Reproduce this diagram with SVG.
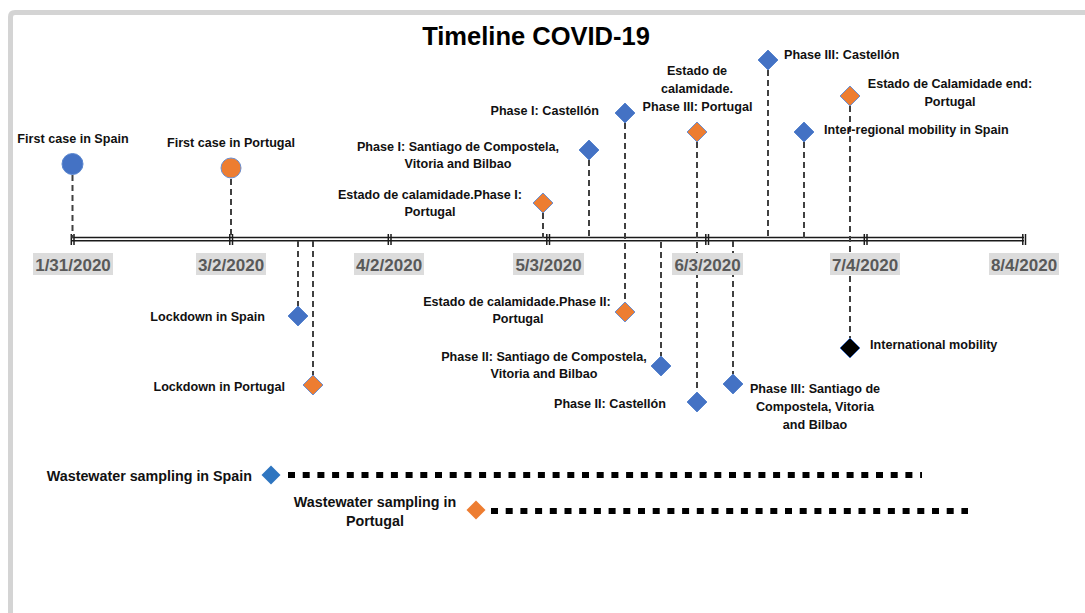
<svg xmlns="http://www.w3.org/2000/svg" xmlns:xlink="http://www.w3.org/1999/xlink" width="1085" height="613" viewBox="0 0 1085 613">
<style>
  .lbl { font-family: "Liberation Sans", Arial, sans-serif; font-weight: bold; font-size: 12.6px; fill: #111; }
  .ww { font-size: 14.3px; }
  .mid { text-anchor: middle; }
  .end { text-anchor: end; }
  .date { font-family: "Liberation Sans", Arial, sans-serif; font-weight: bold; font-size: 17px; fill: #595959; text-anchor: middle; }
  .datebox { fill: #dcdcdc; }
  .dash { stroke: #404040; stroke-width: 2; stroke-dasharray: 6 4; fill: none; }
  .axis { stroke: #1a1a1a; stroke-width: 1.4; }
  .tick { stroke: #1a1a1a; stroke-width: 1.5; }
  .blue { fill: #4472c4; stroke: #5a86cf; stroke-width: 1; }
  .orange { fill: #ed7d31; stroke: #6b8fd0; stroke-width: 1; }
  .black { fill: #000; stroke: #4472c4; stroke-width: 1; }
  .dots { stroke: #000; stroke-width: 6; stroke-dasharray: 7 7.7; fill: none; }
</style>
<defs>
  <path id="dia" d="M0,-10 L10,0 L0,10 L-10,0 Z"/>
  <path id="dia2" d="M0,-9.5 L9.5,0 L0,9.5 L-9.5,0 Z"/>
  <g id="tk"><line x1="-1.2" y1="234" x2="-1.2" y2="245"/><line x1="1.5" y1="234" x2="1.5" y2="245"/></g>
</defs>
<rect width="1085" height="613" fill="#fff"/>
<path d="M10.5,613 L10.5,17 Q10.5,12.5 15,12.5 L1085,12.5" fill="none" stroke="#d4d4d4" stroke-width="5"/>

<text x="536" y="45" font-family="Liberation Sans, Arial, sans-serif" font-weight="bold" font-size="25.5" text-anchor="middle" fill="#000">Timeline COVID-19</text>

<g id="axis">
  <line class="axis" x1="72" y1="237.5" x2="1024" y2="237.5"/>
  <line class="axis" x1="72" y1="240.7" x2="1024" y2="240.7"/>
  <g class="tick">
    <use xlink:href="#tk" x="72.5"/>
    <use xlink:href="#tk" x="231"/>
    <use xlink:href="#tk" x="389.5"/>
    <use xlink:href="#tk" x="548"/>
    <use xlink:href="#tk" x="707"/>
    <use xlink:href="#tk" x="865.5"/>
    <use xlink:href="#tk" x="1024"/>
  </g>
</g>

<g id="connectors">
  <line class="dash" x1="72.5" y1="175" x2="72.5" y2="238"/>
  <line class="dash" x1="231" y1="179" x2="231" y2="238"/>
  <line class="dash" x1="298" y1="241" x2="298" y2="306"/>
  <line class="dash" x1="313" y1="241" x2="313" y2="375"/>
  <line class="dash" x1="543" y1="213" x2="543" y2="238"/>
  <line class="dash" x1="589" y1="160" x2="589" y2="238"/>
  <line class="dash" x1="625" y1="123" x2="625" y2="302"/>
  <line class="dash" x1="661" y1="242" x2="661" y2="356"/>
  <line class="dash" x1="697" y1="142" x2="697" y2="392"/>
  <line class="dash" x1="733" y1="241" x2="733" y2="374"/>
  <line class="dash" x1="768" y1="70" x2="768" y2="238"/>
  <line class="dash" x1="804" y1="142" x2="804" y2="238"/>
  <line class="dash" x1="850" y1="106" x2="850" y2="338"/>
</g>

<g id="dates">
  <rect class="datebox" x="33" y="253" width="80" height="22"/><text class="date" x="73" y="270.5">1/31/2020</text>
  <rect class="datebox" x="196" y="253" width="70" height="22"/><text class="date" x="231" y="270.5">3/2/2020</text>
  <rect class="datebox" x="354" y="253" width="70" height="22"/><text class="date" x="389" y="270.5">4/2/2020</text>
  <rect class="datebox" x="513" y="253" width="71" height="22"/><text class="date" x="548.5" y="270.5">5/3/2020</text>
  <rect class="datebox" x="672" y="253" width="71" height="22"/><text class="date" x="707.5" y="270.5">6/3/2020</text>
  <rect class="datebox" x="830" y="253" width="70" height="22"/><text class="date" x="865" y="270.5">7/4/2020</text>
  <rect class="datebox" x="989" y="253" width="70" height="22"/><text class="date" x="1024" y="270.5">8/4/2020</text>
</g>

<g id="first-case-spain">
  <circle cx="72.5" cy="164" r="10.5" fill="#4472c4" stroke="#5a86cf" stroke-width="1"/>
  <text class="lbl mid" x="73" y="143">First case in Spain</text>
</g>
<g id="first-case-portugal">
  <circle cx="231" cy="168" r="10" fill="#ed7d31" stroke="#6b8fd0" stroke-width="1"/>
  <text class="lbl mid" x="231" y="147">First case in Portugal</text>
</g>
<g id="lockdown-spain">
  <use xlink:href="#dia" class="blue" x="298" y="316"/>
  <text class="lbl end" x="265" y="321">Lockdown in Spain</text>
</g>
<g id="lockdown-portugal">
  <use xlink:href="#dia" class="orange" x="313" y="385"/>
  <text class="lbl end" x="285" y="391">Lockdown in Portugal</text>
</g>
<g id="phase1-portugal">
  <use xlink:href="#dia" class="orange" x="543" y="203"/>
  <text class="lbl mid" x="430" y="199">Estado de calamidade.Phase I:</text>
  <text class="lbl mid" x="430" y="216">Portugal</text>
</g>
<g id="phase1-santiago">
  <use xlink:href="#dia" class="blue" x="589" y="150"/>
  <text class="lbl mid" x="458" y="151">Phase I: Santiago de Compostela,</text>
  <text class="lbl mid" x="458" y="168">Vitoria and Bilbao</text>
</g>
<g id="phase1-castellon">
  <use xlink:href="#dia" class="blue" x="625" y="113"/>
  <text class="lbl end" x="599" y="115">Phase I: Castellón</text>
</g>
<g id="phase2-portugal">
  <use xlink:href="#dia" class="orange" x="625" y="312"/>
  <text class="lbl mid" x="517" y="306">Estado de calamidade.Phase II:</text>
  <text class="lbl mid" x="518" y="323">Portugal</text>
</g>
<g id="phase2-santiago">
  <use xlink:href="#dia" class="blue" x="661" y="366"/>
  <text class="lbl mid" x="544" y="361">Phase II: Santiago de Compostela,</text>
  <text class="lbl mid" x="544" y="378">Vitoria and Bilbao</text>
</g>
<g id="phase2-castellon">
  <use xlink:href="#dia" class="blue" x="697" y="402"/>
  <text class="lbl end" x="666" y="408">Phase II: Castellón</text>
</g>
<g id="phase3-portugal">
  <use xlink:href="#dia" class="orange" x="697" y="132"/>
  <text class="lbl mid" x="697" y="75">Estado de</text>
  <text class="lbl mid" x="697" y="93">calamidade.</text>
  <text class="lbl mid" x="697.5" y="111">Phase III: Portugal</text>
</g>
<g id="phase3-santiago">
  <use xlink:href="#dia" class="blue" x="733" y="384"/>
  <text class="lbl mid" x="815" y="393">Phase III: Santiago de</text>
  <text class="lbl mid" x="815" y="411">Compostela, Vitoria</text>
  <text class="lbl mid" x="815" y="429">and Bilbao</text>
</g>
<g id="phase3-castellon">
  <use xlink:href="#dia" class="blue" x="768" y="60"/>
  <text class="lbl" x="784" y="59">Phase III: Castellón</text>
</g>
<g id="inter-regional">
  <use xlink:href="#dia" class="blue" x="804" y="132"/>
  <text class="lbl" x="824" y="134">Inter-regional mobility in Spain</text>
</g>
<g id="calamidade-end">
  <use xlink:href="#dia" class="orange" x="850" y="96"/>
  <text class="lbl mid" x="950" y="88">Estado de Calamidade end:</text>
  <text class="lbl mid" x="950" y="106">Portugal</text>
</g>
<g id="international">
  <use xlink:href="#dia" class="black" x="850" y="348"/>
  <text class="lbl" x="870" y="349">International mobility</text>
</g>

<g id="wastewater-spain">
  <line class="dots" x1="288" y1="475" x2="922" y2="475"/>
  <use xlink:href="#dia2" x="271" y="475" fill="#2e75c0"/>
  <text class="lbl ww end" x="252" y="480.5">Wastewater sampling in Spain</text>
</g>
<g id="wastewater-portugal">
  <line class="dots" x1="491" y1="511" x2="968" y2="511"/>
  <use xlink:href="#dia2" x="476" y="510" fill="#ed7d31"/>
  <text class="lbl ww mid" x="375" y="507">Wastewater sampling in</text>
  <text class="lbl ww mid" x="375" y="526">Portugal</text>
</g>
</svg>
